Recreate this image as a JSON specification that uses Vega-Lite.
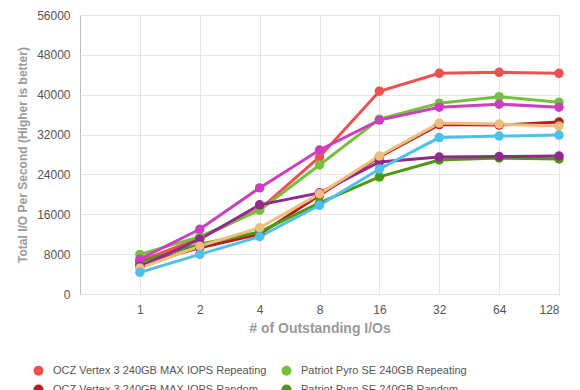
{
  "$schema": "https://vega.github.io/schema/vega-lite/v6.json",
  "autosize": {"type": "none"},
  "width": 479,
  "height": 279,
  "padding": {"left": 80, "top": 15, "right": 21, "bottom": 96},
  "background": "white",
  "config": {
    "font": "Liberation Sans",
    "view": {"stroke": "#bbbbbb", "strokeWidth": 1},
    "axis": {"gridColor": "#e6e6e6", "gridWidth": 1, "domain": false, "ticks": false}
  },
  "data": {
    "values": [
      {"series": "OCZ Vertex 3 240GB MAX IOPS Repeating", "io": 1, "iops": 6600},
      {"series": "OCZ Vertex 3 240GB MAX IOPS Repeating", "io": 2, "iops": 11200},
      {"series": "OCZ Vertex 3 240GB MAX IOPS Repeating", "io": 4, "iops": 17000},
      {"series": "OCZ Vertex 3 240GB MAX IOPS Repeating", "io": 8, "iops": 27500},
      {"series": "OCZ Vertex 3 240GB MAX IOPS Repeating", "io": 16, "iops": 40700},
      {"series": "OCZ Vertex 3 240GB MAX IOPS Repeating", "io": 32, "iops": 44300},
      {"series": "OCZ Vertex 3 240GB MAX IOPS Repeating", "io": 64, "iops": 44500},
      {"series": "OCZ Vertex 3 240GB MAX IOPS Repeating", "io": 128, "iops": 44300},
      {"series": "Patriot Pyro SE 240GB Repeating", "io": 1, "iops": 7950},
      {"series": "Patriot Pyro SE 240GB Repeating", "io": 2, "iops": 11500},
      {"series": "Patriot Pyro SE 240GB Repeating", "io": 4, "iops": 16800},
      {"series": "Patriot Pyro SE 240GB Repeating", "io": 8, "iops": 25900},
      {"series": "Patriot Pyro SE 240GB Repeating", "io": 16, "iops": 35100},
      {"series": "Patriot Pyro SE 240GB Repeating", "io": 32, "iops": 38300},
      {"series": "Patriot Pyro SE 240GB Repeating", "io": 64, "iops": 39600},
      {"series": "Patriot Pyro SE 240GB Repeating", "io": 128, "iops": 38500},
      {"series": "OCZ Vertex 3 240GB MAX IOPS Random", "io": 1, "iops": 5800},
      {"series": "OCZ Vertex 3 240GB MAX IOPS Random", "io": 2, "iops": 9300},
      {"series": "OCZ Vertex 3 240GB MAX IOPS Random", "io": 4, "iops": 12000},
      {"series": "OCZ Vertex 3 240GB MAX IOPS Random", "io": 8, "iops": 19800},
      {"series": "OCZ Vertex 3 240GB MAX IOPS Random", "io": 16, "iops": 27500},
      {"series": "OCZ Vertex 3 240GB MAX IOPS Random", "io": 32, "iops": 34000},
      {"series": "OCZ Vertex 3 240GB MAX IOPS Random", "io": 64, "iops": 33900},
      {"series": "OCZ Vertex 3 240GB MAX IOPS Random", "io": 128, "iops": 34500},
      {"series": "Patriot Pyro SE 240GB Random", "io": 1, "iops": 6450},
      {"series": "Patriot Pyro SE 240GB Random", "io": 2, "iops": 10000},
      {"series": "Patriot Pyro SE 240GB Random", "io": 4, "iops": 12450},
      {"series": "Patriot Pyro SE 240GB Random", "io": 8, "iops": 18300},
      {"series": "Patriot Pyro SE 240GB Random", "io": 16, "iops": 23500},
      {"series": "Patriot Pyro SE 240GB Random", "io": 32, "iops": 26900},
      {"series": "Patriot Pyro SE 240GB Random", "io": 64, "iops": 27300},
      {"series": "Patriot Pyro SE 240GB Random", "io": 128, "iops": 27100},
      {"series": "Corsair Force GT 240GB Repeating", "io": 1, "iops": 7000},
      {"series": "Corsair Force GT 240GB Repeating", "io": 2, "iops": 13000},
      {"series": "Corsair Force GT 240GB Repeating", "io": 4, "iops": 21300},
      {"series": "Corsair Force GT 240GB Repeating", "io": 8, "iops": 28900},
      {"series": "Corsair Force GT 240GB Repeating", "io": 16, "iops": 34900},
      {"series": "Corsair Force GT 240GB Repeating", "io": 32, "iops": 37500},
      {"series": "Corsair Force GT 240GB Repeating", "io": 64, "iops": 38100},
      {"series": "Corsair Force GT 240GB Repeating", "io": 128, "iops": 37500},
      {"series": "Corsair Force GT 240GB Random", "io": 1, "iops": 5500},
      {"series": "Corsair Force GT 240GB Random", "io": 2, "iops": 11000},
      {"series": "Corsair Force GT 240GB Random", "io": 4, "iops": 17900},
      {"series": "Corsair Force GT 240GB Random", "io": 8, "iops": 20300},
      {"series": "Corsair Force GT 240GB Random", "io": 16, "iops": 26500},
      {"series": "Corsair Force GT 240GB Random", "io": 32, "iops": 27500},
      {"series": "Corsair Force GT 240GB Random", "io": 64, "iops": 27600},
      {"series": "Corsair Force GT 240GB Random", "io": 128, "iops": 27700},
      {"series": "Intel 330 240GB Repeating", "io": 1, "iops": 5200},
      {"series": "Intel 330 240GB Repeating", "io": 2, "iops": 9600},
      {"series": "Intel 330 240GB Repeating", "io": 4, "iops": 13300},
      {"series": "Intel 330 240GB Repeating", "io": 8, "iops": 20100},
      {"series": "Intel 330 240GB Repeating", "io": 16, "iops": 27700},
      {"series": "Intel 330 240GB Repeating", "io": 32, "iops": 34300},
      {"series": "Intel 330 240GB Repeating", "io": 64, "iops": 34100},
      {"series": "Intel 330 240GB Repeating", "io": 128, "iops": 33700},
      {"series": "Intel 330 240GB Random", "io": 1, "iops": 4350},
      {"series": "Intel 330 240GB Random", "io": 2, "iops": 7950},
      {"series": "Intel 330 240GB Random", "io": 4, "iops": 11500},
      {"series": "Intel 330 240GB Random", "io": 8, "iops": 17800},
      {"series": "Intel 330 240GB Random", "io": 16, "iops": 25100},
      {"series": "Intel 330 240GB Random", "io": 32, "iops": 31400},
      {"series": "Intel 330 240GB Random", "io": 64, "iops": 31700},
      {"series": "Intel 330 240GB Random", "io": 128, "iops": 31900}
    ]
  },
  "encoding": {
    "x": {
      "field": "io", "type": "quantitative",
      "scale": {"type": "log", "base": 2, "domain": [0.5, 128], "nice": false},
      "axis": {
        "values": [1, 2, 4, 8, 16, 32, 64, 128],
        "format": "d",
        "title": "# of Outstanding I/Os",
        "labelFontSize": 12, "labelColor": "#555555", "labelPadding": 10,
        "titleFontSize": 14, "titleColor": "#9a9a9a", "titleFontWeight": "bold", "titlePadding": 6
      }
    },
    "y": {
      "field": "iops", "type": "quantitative",
      "scale": {"domain": [0, 56000], "nice": false},
      "axis": {
        "values": [0, 8000, 16000, 24000, 32000, 40000, 48000, 56000],
        "format": "d",
        "title": "Total I/O Per Second  (Higher is better)",
        "labelFontSize": 12, "labelColor": "#555555", "labelPadding": 10,
        "titleFontSize": 12, "titleColor": "#9a9a9a", "titleFontWeight": "bold", "titlePadding": 7
      }
    },
    "color": {
      "field": "series", "type": "nominal",
      "scale": {
        "domain": [
          "OCZ Vertex 3 240GB MAX IOPS Repeating",
          "Patriot Pyro SE 240GB Repeating",
          "OCZ Vertex 3 240GB MAX IOPS Random",
          "Patriot Pyro SE 240GB Random",
          "Corsair Force GT 240GB Repeating",
          "Corsair Force GT 240GB Random",
          "Intel 330 240GB Repeating",
          "Intel 330 240GB Random"
        ],
        "range": ["#ee4f4f", "#76c13c", "#b81c1e", "#4c9a12", "#cc3fc2", "#93288e", "#edbe7c", "#4ec0ec"]
      },
      "legend": {
        "orient": "none", "legendX": -47, "legendY": 350,
        "direction": "horizontal", "columns": 2, "padding": 0,
        "title": null,
        "symbolType": "circle", "symbolSize": 100, "symbolStrokeWidth": 0,
        "labelFontSize": 11, "labelColor": "#555555", "labelOffset": 9,
        "rowPadding": 7, "columnPadding": 14,
        "labelLimit": 400
      }
    }
  },
  "layer": [
    {"mark": {"type": "line", "strokeWidth": 3}},
    {"mark": {"type": "point", "filled": true, "size": 90, "opacity": 1}}
  ]
}
